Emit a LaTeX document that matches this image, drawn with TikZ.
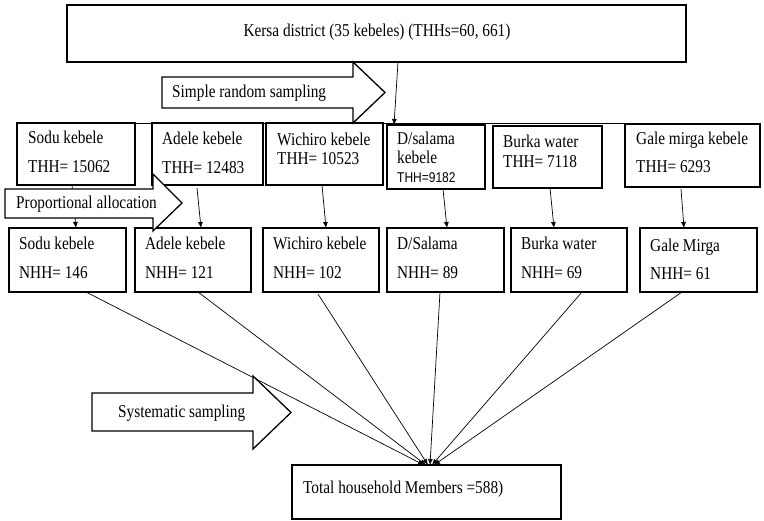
\documentclass[tikz,border=0pt]{standalone}
\usepackage{fontspec}
\setmainfont{Liberation Serif}
\newfontfamily\sansthh{Liberation Sans}
\usetikzlibrary{arrows.meta,calc}
\newcommand{\tallt}[1]{\scalebox{1}[1.18]{#1}}
\begin{document}
\begin{tikzpicture}[x=1pt,y=-1pt,
  box/.style={draw,line width=1.5pt,inner sep=0pt,outer sep=0pt},
  txt/.style={anchor=base west,inner sep=0pt,font=\fontsize{15.3}{18}\selectfont},
  stxt/.style={anchor=base west,inner sep=0pt,font=\sansthh\fontsize{12}{14}\selectfont},
  conn/.style={line width=0.7pt,-{Latex[length=6pt,width=5pt]}},
  blockarrow/.style={draw,line width=1.3pt,fill=white,line join=miter}]
\useasboundingbox (0,0) rectangle (764,521);
% boxes
\node[box,minimum width=619pt,minimum height=57pt] (top) at (376.5,33.5) {};
\node[box,minimum width=118pt,minimum height=62pt] (s1) at (76,154) {};
\node[box,minimum width=111pt,minimum height=62pt] (a1) at (207.5,154) {};
\node[box,minimum width=117pt,minimum height=62pt] (w1) at (324.5,154) {};
\node[box,minimum width=98pt,minimum height=64pt] (d1) at (436,157) {};
\node[box,minimum width=109pt,minimum height=62pt] (b1) at (547.5,157) {};
\node[box,minimum width=135pt,minimum height=63pt] (g1) at (692.5,155.5) {};
\node[box,minimum width=117pt,minimum height=64pt] (s2) at (67.5,260) {};
\node[box,minimum width=116pt,minimum height=64pt] (a2) at (193,260) {};
\node[box,minimum width=116pt,minimum height=64pt] (w2) at (321,260) {};
\node[box,minimum width=117pt,minimum height=64pt] (d2) at (445.5,260) {};
\node[box,minimum width=116pt,minimum height=64pt] (b2) at (569,260) {};
\node[box,minimum width=117pt,minimum height=64pt] (g2) at (698.5,260) {};
\node[box,minimum width=269pt,minimum height=54pt] (tot) at (426.5,492) {};
% line across top of first row
\draw[line width=0.8pt] (s1.north west) -- (s1.north west -| g1.north east);
% texts
\node[txt,anchor=base] (ttop) at (377,37) {\tallt{Kersa district (35 kebeles) (THHs=60, 661)}};
\node[txt] (ts1a) at (28,144) {\tallt{Sodu kebele}};
\node[txt] (ts1b) at (28,173) {\tallt{THH= 15062}};
\node[txt] (ta1a) at (162,145) {\tallt{Adele kebele}};
\node[txt] (ta1b) at (162,174) {\tallt{THH= 12483}};
\node[txt] (tw1a) at (277,146) {\tallt{Wichiro kebele}};
\node[txt] (tw1b) at (277,165) {\tallt{THH= 10523}};
\node[txt] (td1a) at (397,145) {\tallt{D/salama}};
\node[txt] (td1b) at (397,164) {\tallt{kebele}};
\node[stxt] (td1c) at (397,182.5) {\tallt{THH=9182}};
\node[txt] (tb1a) at (503,148) {\tallt{Burka water}};
\node[txt] (tb1b) at (503,168) {\tallt{THH= 7118}};
\node[txt] (tg1a) at (636,145) {\tallt{Gale mirga kebele}};
\node[txt] (tg1b) at (636,173) {\tallt{THH= 6293}};
\node[txt] (ts2a) at (19,250) {\tallt{Sodu kebele}};
\node[txt] (ts2b) at (19,279) {\tallt{NHH= 146}};
\node[txt] (ta2a) at (145,250) {\tallt{Adele kebele}};
\node[txt] (ta2b) at (145,279) {\tallt{NHH= 121}};
\node[txt] (tw2a) at (273,250) {\tallt{Wichiro kebele}};
\node[txt] (tw2b) at (273,279) {\tallt{NHH= 102}};
\node[txt] (td2a) at (397,250) {\tallt{D/Salama}};
\node[txt] (td2b) at (397,279) {\tallt{NHH= 89}};
\node[txt] (tb2a) at (521,250) {\tallt{Burka water}};
\node[txt] (tb2b) at (521,279) {\tallt{NHH= 69}};
\node[txt] (tg2a) at (650,252) {\tallt{Gale Mirga}};
\node[txt] (tg2b) at (650,280) {\tallt{NHH= 61}};
\node[txt] (ttot) at (303,494) {\tallt{Total household Members =588)}};
% connectors
\draw[conn] ([xshift=21.5pt]top.south) -- ([xshift=-42pt]d1.north);
\draw[conn] ([xshift=-4pt]s1.south) -- ([xshift=8.5pt]s2.north);
\draw[conn] ([xshift=-10.5pt,yshift=-3pt]a1.south) -- ([xshift=8pt]a2.north);
\draw[conn] ([xshift=-2.5pt]w1.south) -- ([xshift=5pt]w2.north);
\draw[conn] ([xshift=7pt]d1.south) -- ([xshift=1.5pt]d2.north);
\draw[conn] ([xshift=2.5pt]b1.south) -- ([xshift=-15pt]b2.north);
\draw[conn] ([xshift=-11.5pt,yshift=-2pt]g1.south) -- ([xshift=-14.5pt]g2.north);
\draw[conn] ([xshift=18.5pt]s2.south) -- ([xshift=-2.5pt]tot.north);
\draw[conn] ([xshift=5pt]a2.south) -- ([xshift=-0.5pt]tot.north);
\draw[conn] ([xshift=-3pt,yshift=-2pt]w2.south) -- ([xshift=1.5pt]tot.north);
\draw[conn] ([xshift=-5.5pt]d2.south) -- ([xshift=3.5pt]tot.north);
\draw[conn] ([xshift=13pt]b2.south) -- ([xshift=5.5pt]tot.north);
\draw[conn] ([xshift=-16.5pt]g2.south) -- ([xshift=7.5pt]tot.north);
% block arrows
\draw[blockarrow] (162,77) -- (353,77) -- (353,62) -- (385,92.5) -- (353,123) -- (353,108) -- (162,108) -- cycle;
\node[txt] (tsrs) at (172,98) {\tallt{Simple random sampling}};
\draw[blockarrow] (5,189) -- (153,189) -- (153,174) -- (182,203) -- (153,231) -- (153,218) -- (5,218) -- cycle;
\node[txt] (tpa) at (16,209) {\tallt{Proportional allocation}};
\draw[blockarrow] (92,393) -- (253,393) -- (253,376) -- (291,412.5) -- (253,449) -- (253,431) -- (92,431) -- cycle;
\node[txt] (tss) at (118,418) {\tallt{Systematic sampling}};
\end{tikzpicture}
\end{document}
